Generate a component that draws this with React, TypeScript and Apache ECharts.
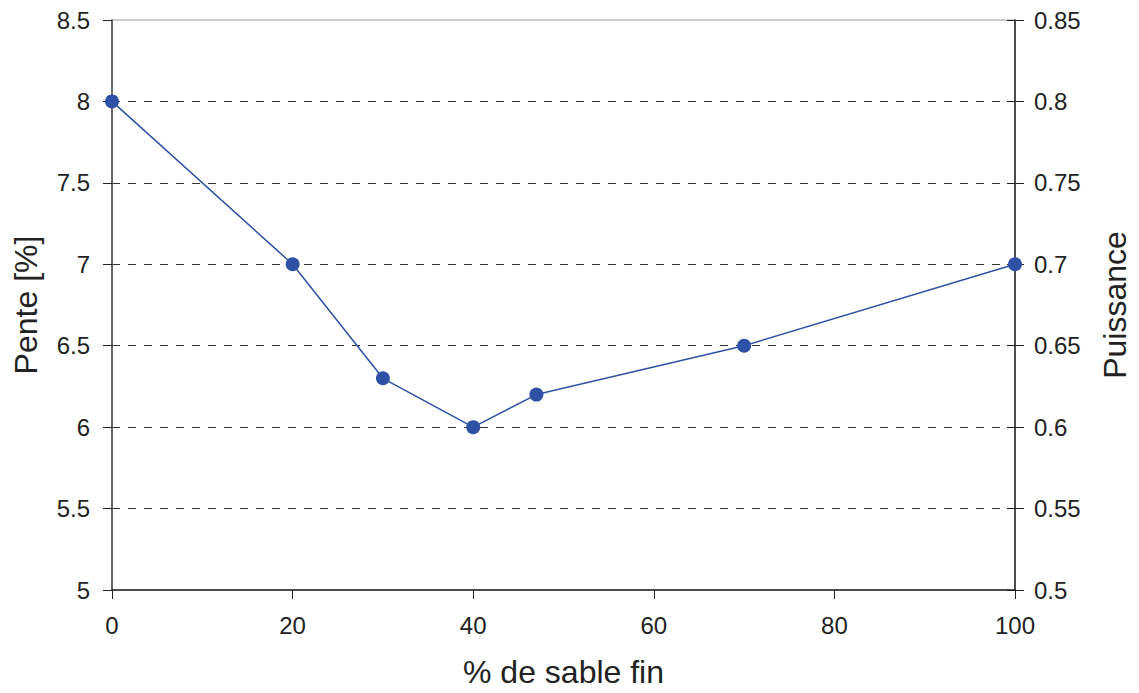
import React, { useEffect, useRef } from "react";
import * as echarts from "echarts";

const sableFin = [0, 20, 30, 40, 47, 70, 100];
const pente = [8, 7, 6.3, 6, 6.2, 6.5, 7];
const xTicks = [0, 20, 40, 60, 80, 100];

const FONT = "Liberation Sans, Arial, sans-serif";

export default function App() {
  const ref = useRef<HTMLDivElement>(null);
  useEffect(() => {
    if (!ref.current) return;
    const chart = echarts.init(ref.current, undefined, { renderer: "svg" });
    const fmt = (v: number) => String(parseFloat(v.toFixed(3)));
    chart.setOption({
      animation: false,
      backgroundColor: "#ffffff",
      textStyle: { fontFamily: FONT },
      grid: {
        left: 112,
        right: 120,
        top: 20,
        bottom: 99,
        show: true,
        borderColor: "#9a9a9a",
        borderWidth: 1,
      },
      xAxis: {
        type: "value",
        min: xTicks[0],
        max: xTicks[xTicks.length - 1],
        interval: 20,
        name: "% de sable fin",
        nameLocation: "middle",
        nameGap: 66,
        nameTextStyle: { fontSize: 32, color: "#222", fontFamily: FONT },
        axisLine: { show: true, lineStyle: { color: "#222", width: 1.5 } },
        axisTick: { show: true, inside: false, length: 9, lineStyle: { color: "#222" } },
        axisLabel: { fontSize: 24, color: "#222", margin: 23, fontFamily: FONT },
        splitLine: { show: false },
      },
      yAxis: [
        {
          type: "value",
          min: 5,
          max: 8.5,
          interval: 0.5,
          position: "left",
          name: "Pente [%]",
          nameLocation: "middle",
          nameGap: 70,
          nameTextStyle: { fontSize: 32, color: "#222", fontFamily: FONT },
          axisLine: { show: true, lineStyle: { color: "#444", width: 1.5 } },
          axisTick: { show: true, inside: false, length: 9, lineStyle: { color: "#222" } },
          axisLabel: { fontSize: 24, color: "#222", margin: 22, formatter: fmt, fontFamily: FONT },
          splitLine: {
            show: true,
            showMinLine: false,
            showMaxLine: false,
            lineStyle: { color: "#333", type: [8, 8], width: 1 },
          },
        },
        {
          type: "value",
          min: 0.5,
          max: 0.85,
          interval: 0.05,
          position: "right",
          name: "Puissance",
          nameLocation: "middle",
          nameGap: 84,
          nameRotate: 90,
          nameTextStyle: { fontSize: 32, color: "#222", fontFamily: FONT },
          axisLine: { show: true, lineStyle: { color: "#222", width: 1.5 } },
          axisTick: { show: true, inside: false, length: 9, lineStyle: { color: "#222" } },
          axisLabel: { fontSize: 24, color: "#222", margin: 19, formatter: fmt, fontFamily: FONT },
          splitLine: { show: false },
        },
        {
          type: "value",
          min: 0.5,
          max: 0.85,
          interval: 0.05,
          position: "right",
          axisLine: { show: false },
          axisTick: { show: true, inside: true, length: 8, lineStyle: { color: "#222" } },
          axisLabel: { show: false },
          splitLine: { show: false },
        },
      ],
      series: [
        {
          type: "line",
          yAxisIndex: 0,
          data: sableFin.map((x, i) => [x, pente[i]]),
          symbol: "circle",
          symbolSize: 14,
          itemStyle: { color: "#2e51a5" },
          lineStyle: { color: "#2e51a5", width: 1.5 },
        },
      ],
    });
    return () => chart.dispose();
  }, []);
  return <div ref={ref} style={{ width: 1139, height: 693, position: "absolute", left: 0, top: 0 }} />;
}
